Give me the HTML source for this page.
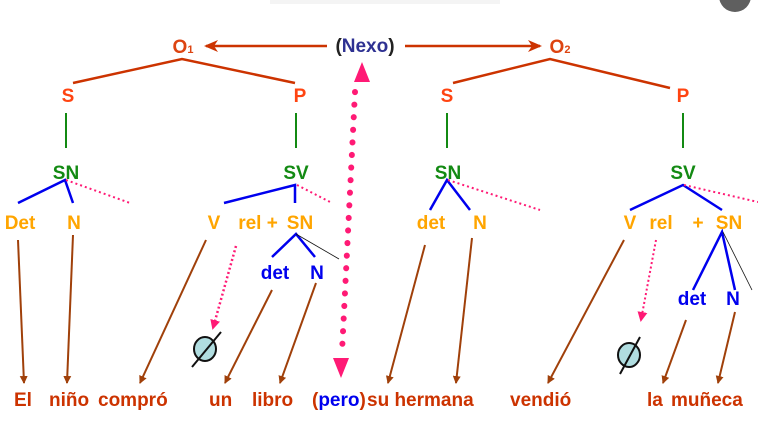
<!DOCTYPE html>
<html><head><meta charset="utf-8"><style>
html,body{margin:0;padding:0;background:#fff;}
svg{display:block;}
text{font-family:"Liberation Sans",Arial,sans-serif;font-weight:bold;font-size:19px;}
</style></head><body>
<svg width="758" height="435" viewBox="0 0 758 435" xmlns="http://www.w3.org/2000/svg">
<defs>
<marker id="ab" markerWidth="8" markerHeight="8" refX="7" refY="4" orient="auto" markerUnits="userSpaceOnUse"><path d="M0,0 L8,4 L0,8 z" fill="#a0400a"/></marker>
<marker id="ar" markerWidth="14" markerHeight="12" refX="12" refY="6" orient="auto" markerUnits="userSpaceOnUse"><path d="M0,0 L14,6 L0,12 L4,6 z" fill="#cc3300"/></marker>
<marker id="ap" markerWidth="10" markerHeight="10" refX="8" refY="5" orient="auto" markerUnits="userSpaceOnUse"><path d="M0,0 L10,5 L0,10 z" fill="#ff1a75"/></marker>
</defs>
<rect x="270" y="0" width="230" height="4" fill="#f4f4f4"/>
<circle cx="735" cy="-4" r="16" fill="#5f5f5f"/>

<!-- top -->
<text x="183" y="53" fill="#dd4411" text-anchor="middle">O<tspan font-size="11">1</tspan></text>
<text x="560" y="53" fill="#dd4411" text-anchor="middle">O<tspan font-size="11">2</tspan></text>
<text x="365" y="52" text-anchor="middle" fill="#222">(<tspan fill="#2e3192">Nexo</tspan>)</text>
<line x1="327" y1="46" x2="206" y2="46" stroke="#cc3300" stroke-width="2.5" marker-end="url(#ar)"/>
<line x1="405" y1="46" x2="540" y2="46" stroke="#cc3300" stroke-width="2.5" marker-end="url(#ar)"/>

<g stroke="#cc3300" stroke-width="2.5" fill="none">
<polyline points="73,83 182,59 295,83"/>
<polyline points="453,83 550,59 670,88"/>
</g>
<g fill="#ff4411" text-anchor="middle">
<text x="68" y="102">S</text><text x="300" y="102">P</text>
<text x="447" y="102">S</text><text x="683" y="102">P</text>
</g>
<g stroke="#138a13" stroke-width="2">
<line x1="66" y1="113" x2="66" y2="148"/><line x1="296" y1="113" x2="296" y2="148"/>
<line x1="447" y1="113" x2="447" y2="148"/><line x1="683" y1="113" x2="683" y2="148"/>
</g>
<g fill="#138a13" text-anchor="middle">
<text x="66" y="179">SN</text><text x="296" y="179">SV</text>
<text x="448" y="179">SN</text><text x="683" y="179">SV</text>
</g>

<!-- blue branches -->
<g stroke="#0000ee" stroke-width="2.5" fill="none">
<polyline points="18,203 65,180 73,203"/>
<polyline points="224,203 295,185 295,203"/>
<polyline points="430,210 447,180 470,210"/>
<polyline points="630,210 683,185 722,210"/>
<polyline points="272,257 296,234 315,257"/>
<polyline points="693,290 722,232 735,290"/>
</g>
<g stroke="#ff1a75" stroke-width="2" stroke-dasharray="2,3" fill="none">
<line x1="66" y1="180" x2="130" y2="203"/>
<line x1="297" y1="185" x2="332" y2="203"/>
<line x1="448" y1="180" x2="540" y2="210"/>
<line x1="684" y1="185" x2="758" y2="202"/>
</g>
<line x1="296" y1="234" x2="339" y2="259" stroke="#111" stroke-width="0.8"/>
<line x1="723" y1="232" x2="752" y2="290" stroke="#111" stroke-width="0.8"/>

<g fill="#ffa500" text-anchor="middle">
<text x="20" y="229">Det</text><text x="74" y="229">N</text>
<text x="214" y="229">V</text><text x="258" y="229">rel +</text><text x="300" y="229">SN</text>
<text x="431" y="229">det</text><text x="480" y="229">N</text>
<text x="630" y="229">V</text><text x="661" y="229">rel</text><text x="698" y="229">+</text><text x="729" y="229">SN</text>
</g>
<g fill="#0000ee" text-anchor="middle">
<text x="275" y="279">det</text><text x="317" y="279">N</text>
<text x="692" y="305">det</text><text x="733" y="305">N</text>
</g>

<!-- brown arrows -->
<g stroke="#a0400a" stroke-width="2" marker-end="url(#ab)">
<line x1="18" y1="240" x2="24" y2="383"/>
<line x1="73" y1="235" x2="67" y2="383"/>
<line x1="206" y1="240" x2="140" y2="383"/>
<line x1="272" y1="290" x2="225" y2="383"/>
<line x1="316" y1="283" x2="280" y2="383"/>
<line x1="425" y1="245" x2="388" y2="383"/>
<line x1="472" y1="238" x2="456" y2="383"/>
<line x1="624" y1="240" x2="548" y2="383"/>
<line x1="686" y1="320" x2="663" y2="383"/>
<line x1="735" y1="312" x2="718" y2="383"/>
</g>

<!-- pink dashed to null -->
<line x1="236" y1="246" x2="213" y2="328" stroke="#ff1a75" stroke-width="2.5" stroke-dasharray="2,2.5" marker-end="url(#ap)"/>
<line x1="656" y1="240" x2="641" y2="320" stroke="#ff1a75" stroke-width="2" stroke-dasharray="2,2.5" marker-end="url(#ap)"/>
<ellipse cx="205" cy="349" rx="11" ry="12" fill="#b0dde0" stroke="#111" stroke-width="2"/>
<line x1="192" y1="367" x2="221" y2="332" stroke="#111" stroke-width="2"/>
<ellipse cx="629" cy="355" rx="11" ry="12" fill="#b0dde0" stroke="#111" stroke-width="2"/>
<line x1="620" y1="374" x2="640" y2="337" stroke="#111" stroke-width="2"/>

<!-- big pink dotted -->
<path d="M362,62 L370,82 L354,82 z" fill="#ff1a75"/>
<line x1="355" y1="92" x2="342" y2="352" stroke="#ff1a75" stroke-width="6" stroke-linecap="round" stroke-dasharray="0.1,12.5"/>
<path d="M333,358 L349,358 L341,378 z" fill="#ff1a75"/>

<!-- bottom words -->
<g fill="#cc3300">
<text x="14" y="406">El</text>
<text x="49" y="406">niño</text>
<text x="98" y="406">compró</text>
<text x="209" y="406">un</text>
<text x="252" y="406">libro</text>
<text x="312" y="406">(<tspan fill="#0000ee">pero</tspan>)</text>
<text x="367" y="406">su hermana</text>
<text x="510" y="406">vendió</text>
<text x="647" y="406">la</text>
<text x="671" y="406">muñeca</text>
</g>
</svg>
</body></html>
